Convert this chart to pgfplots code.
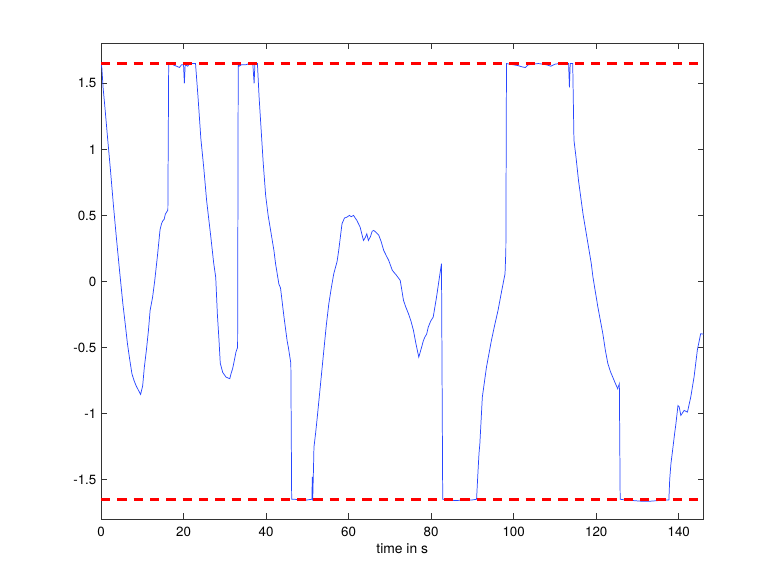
\documentclass[border=0pt]{standalone}
\usepackage{pgfplots}
\pgfplotsset{compat=1.18}
\usepackage{fontspec}
\setmainfont{TeX Gyre Heros}
\definecolor{mblue}{RGB}{40,70,255}
\begin{document}
\begin{tikzpicture}
\begin{axis}[
  at={(0,0)}, anchor=south west,
  scale only axis,
  width=451.9pt, height=356.5pt,
  xmin=0, xmax=146, ymin=-1.8, ymax=1.8,
  xtick={0,20,...,140},
  ytick={-1.5,-1,-0.5,0,0.5,1,1.5},
  tick align=inside,
  major tick length=4.3pt,
  axis line style={black!80, line width=0.6pt},
  tick style={black!80, line width=0.6pt},
  /pgf/number format/assume math mode=true,
  tick label style={font=\fontsize{10}{12}\selectfont},
  xticklabel style={yshift=-2.7pt},
  xlabel={time in s},
  xlabel style={font=\fontsize{10.4}{12}\selectfont, at={(axis description cs:0.5,0)}, anchor=center, yshift=-22.1pt},
  clip=true,
]
\addplot[mblue, line width=0.55pt] coordinates {
(0,1.65) (0.2,1.62) (0.5,1.47) (1,1.30) (1.5,1.12) (2.3,0.84) (3,0.58) (3.7,0.34) (4.5,0.08) (5.3,-0.17) (5.9,-0.33) (6.4,-0.47) (7,-0.6) (7.5,-0.70) (8,-0.75) (8.5,-0.79) (9,-0.82) (9.6,-0.856) (10.1,-0.79) (10.5,-0.65) (11,-0.52) (11.5,-0.37) (11.9,-0.22) (12.5,-0.12) (13,0.0) (13.7,0.2) (14.3,0.39) (14.7,0.44) (15,0.46) (15.3,0.47) (15.6,0.51) (16.2,0.54) (16.4,1.65)
(17,1.65) (17.5,1.64) (18.3,1.63) (19,1.62) (19.5,1.64) (20,1.64) (20.2,1.50) (20.4,1.64) (21,1.63) (21.5,1.65) (22.9,1.65)
(23.5,1.40) (24.2,1.08) (24.9,0.86) (25.6,0.61) (26.6,0.34) (27.3,0.14) (27.8,0.03) (28.2,-0.25) (28.6,-0.45) (28.9,-0.62) (29.5,-0.69) (30.3,-0.725) (31.2,-0.737) (31.5,-0.70) (31.9,-0.66) (32.3,-0.6) (32.7,-0.535) (33.1,-0.50) (33.25,1.65)
(33.5,1.63) (34,1.64) (35,1.64) (36,1.65) (36.8,1.64) (37.1,1.50) (37.3,1.65) (37.9,1.65)
(38.3,1.4) (38.8,1.15) (39.3,0.9) (39.9,0.65) (40.5,0.5) (41.1,0.386) (41.9,0.235) (42.3,0.134) (43.1,-0.02) (43.5,-0.05) (44.3,-0.26) (45.1,-0.45) (45.4,-0.50) (46.0,-0.62) (46.2,-1.65)
(47,-1.65) (48,-1.655) (49,-1.66) (50,-1.655) (51.1,-1.65) (51.2,-1.48) (51.3,-1.66) (51.5,-1.40) (51.6,-1.255) (52,-1.15) (52.4,-1.03) (53.2,-0.775) (54,-0.52) (54.6,-0.33) (55.2,-0.17) (55.8,-0.05) (56.4,0.058) (57.2,0.15) (57.6,0.235) (58.4,0.437) (59,0.48) (59.6,0.487) (60.2,0.50) (60.6,0.49) (61.2,0.50) (61.6,0.48) (62.0,0.462) (62.8,0.41) (63.2,0.36) (63.6,0.31) (64.0,0.33) (64.4,0.36) (64.8,0.31) (65.3,0.34) (65.7,0.38) (66.1,0.386) (66.7,0.37) (67.3,0.35) (67.9,0.30) (68.5,0.235) (69.2,0.19) (69.7,0.16) (70.6,0.083) (71.5,0.05) (72.5,0.008) (73.3,-0.144) (73.8,-0.19) (74.5,-0.245) (75.1,-0.30) (75.7,-0.37) (76.3,-0.47) (77.0,-0.573) (77.4,-0.53) (77.7,-0.497) (78.1,-0.45) (78.5,-0.42) (78.9,-0.40) (79.3,-0.346) (79.9,-0.30) (80.5,-0.27) (81.3,-0.119) (82.0,0.03) (82.5,0.134) (82.8,-1.65)
(84,-1.655) (86,-1.66) (88,-1.655) (90,-1.655) (91,-1.65) (91.4,-1.41) (91.6,-1.30) (91.8,-1.23) (92.4,-0.876) (93.4,-0.65) (94.6,-0.447) (95.4,-0.33) (96.2,-0.22) (97.1,-0.07) (97.9,0.058) (98.1,0.235) (98.25,1.65)
(99,1.645) (100,1.64) (101,1.635) (102,1.625) (102.8,1.62) (103.5,1.64) (104.5,1.645) (106,1.65) (108,1.64) (109,1.63) (110,1.645) (111,1.65) (113.3,1.65) (113.5,1.47) (113.7,1.65) (114.3,1.65)
(114.6,1.07) (115.1,0.94) (115.7,0.765) (116.8,0.51) (118.0,0.285) (118.8,0.134) (119.2,0.033) (120.4,-0.195) (121.6,-0.396) (122.2,-0.52) (122.8,-0.62) (123.4,-0.68) (124.0,-0.725) (124.6,-0.77) (125.2,-0.813) (125.6,-0.775) (125.8,-1.65)
(127,-1.655) (129,-1.66) (131,-1.665) (133,-1.665) (135,-1.66) (137.6,-1.655) (137.8,-1.5) (138.1,-1.38) (138.5,-1.28) (139.0,-1.15) (139.3,-1.08) (139.8,-0.94) (140.1,-0.95) (140.5,-1.015) (141.3,-0.977) (142.1,-0.99) (142.9,-0.876) (143.7,-0.725) (144.5,-0.52) (145.3,-0.396) (146,-0.40)
};
\addplot[red, line width=2pt, dash pattern=on 7pt off 5.25pt] coordinates {(0,1.65) (146,1.65)};
\addplot[red, line width=2pt, dash pattern=on 7pt off 5.25pt] coordinates {(0,-1.65) (146,-1.65)};
\end{axis}
\path[use as bounding box] (-75.75pt,-48.75pt) rectangle (507pt,389.3pt);
\end{tikzpicture}
\end{document}
